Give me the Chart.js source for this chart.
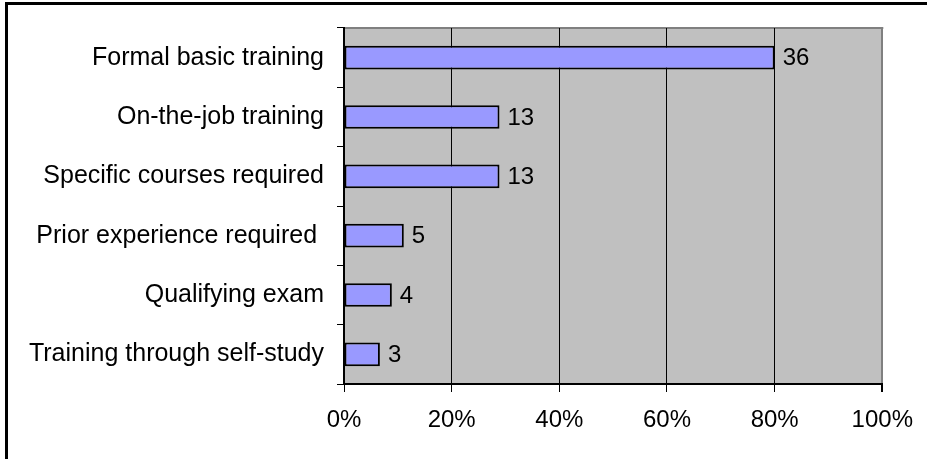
<!DOCTYPE html>
<html>
<head>
<meta charset="utf-8">
<script src="https://cdn.jsdelivr.net/npm/chart.js@4.4.1/dist/chart.umd.min.js"></script>
<style>
  html, body { margin: 0; padding: 0; background: #fff; overflow: hidden; }
  #wrap { position: relative; width: 927px; height: 459px; }
  #frame { position: absolute; left: 5px; top: 2px; width: 940px; height: 480px;
           border-left: 3px solid #000; border-top: 3px solid #000; pointer-events: none; }
  canvas { position: absolute; left: 0; top: 0; }
</style>
</head>
<body>
<div id="wrap">
  <canvas id="chart" width="927" height="459"></canvas>
  <div id="frame"></div>
</div>
<script>
// Training requirements, number of respondents naming each
const categories = [
  'Formal basic training',
  'On-the-job training',
  'Specific courses required',
  'Prior experience required ',
  'Qualifying exam',
  'Training through self-study'
];
const counts = [36, 13, 13, 5, 4, 3];
const respondents = 45;
const xTickValues = [0, 20, 40, 60, 80, 100];

// bar length = share of respondents, in percent
const shares = counts.map(c => c / respondents * 100);

const FAMILY = "'Liberation Sans', Arial, sans-serif";
const FONT = { family: FAMILY, size: 24 };
const CAT_FONT = { family: FAMILY, size: 25 };

const plotBackground = {
  id: 'plotBackground',
  beforeDraw(chart) {
    const { ctx, chartArea: a } = chart;
    ctx.save();
    ctx.fillStyle = '#C0C0C0';
    ctx.fillRect(a.left, a.top, a.right - a.left, a.bottom - a.top);
    ctx.strokeStyle = '#808080';
    ctx.lineWidth = 2;
    ctx.beginPath();
    ctx.moveTo(a.left, a.top);
    ctx.lineTo(a.right + 1, a.top);
    ctx.stroke();
    ctx.restore();
  }
};

const countLabels = {
  id: 'countLabels',
  afterDatasetsDraw(chart) {
    const { ctx } = chart;
    const meta = chart.getDatasetMeta(0);
    ctx.save();
    ctx.font = `${FONT.size}px ${FONT.family}`;
    ctx.fillStyle = '#000';
    ctx.textAlign = 'left';
    ctx.textBaseline = 'middle';
    meta.data.forEach((bar, i) => {
      ctx.fillText(String(counts[i]), bar.x + 8, bar.y + 1);
    });
    ctx.restore();
  }
};

new Chart(document.getElementById('chart'), {
  type: 'bar',
  data: {
    labels: categories,
    datasets: [{
      data: shares,
      backgroundColor: '#9999FF',
      borderColor: '#000',
      borderWidth: 2,
      borderSkipped: false,
      categoryPercentage: 1,
      barPercentage: 0.4
    }]
  },
  options: {
    indexAxis: 'y',
    responsive: false,
    animation: false,
    devicePixelRatio: 1,
    layout: { padding: { top: 23, right: 42, left: 0, bottom: 0 } },
    plugins: { legend: { display: false }, tooltip: { enabled: false } },
    scales: {
      x: {
        min: 0,
        max: 100,
        afterBuildTicks(scale) {
          scale.ticks = xTickValues.map(v => ({ value: v }));
        },
        afterFit(scale) { scale.height = 75; },
        border: { color: '#000', width: 2 },
        grid: {
          color: c => (c.tick && c.tick.value === 100) ? '#808080' : '#000',
          lineWidth: c => (c.tick && c.tick.value === 100) ? 2 : 1,
          tickLength: 8,
          tickColor: '#000'
        },
        ticks: {
          color: '#000',
          font: FONT,
          padding: 14,
          maxRotation: 0,
          callback: v => v + '%'
        }
      },
      y: {
        afterFit(scale) { scale.width = 344; },
        border: { color: '#000', width: 2 },
        grid: {
          offset: true,
          drawOnChartArea: false,
          tickLength: 7,
          color: '#000'
        },
        ticks: {
          color: '#000',
          font: CAT_FONT,
          padding: 13,
          autoSkip: false
        }
      }
    }
  },
  plugins: [plotBackground, countLabels]
});
</script>
</body>
</html>
